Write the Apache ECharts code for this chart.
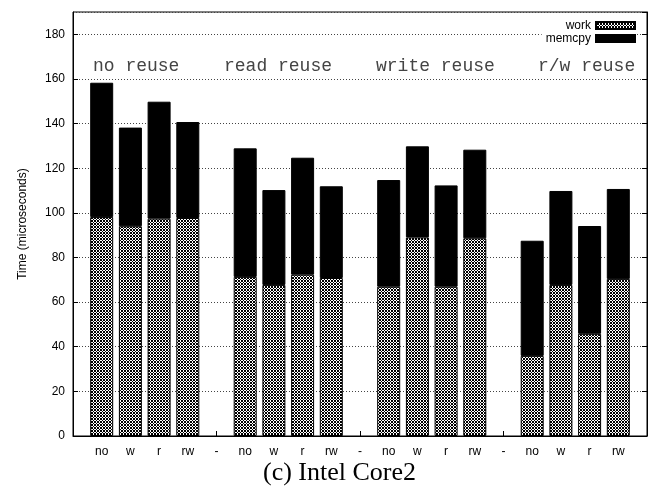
<!DOCTYPE html>
<html>
<head>
<meta charset="utf-8">
<script src="https://cdn.jsdelivr.net/npm/echarts@6/dist/echarts.min.js"></script>
<style>
html,body{margin:0;padding:0;background:#fff;}
#chart{width:653px;height:489px;}
</style>
</head>
<body>
<div id="chart"></div>
<script>
// ---- data ----
const categories = ['no','w','r','rw','-','no','w','r','rw','-','no','w','r','rw','-','no','w','r','rw'];
const groupLabels = ['no reuse','read reuse','write reuse','r/w reuse'];
const workValues = [98.1, 94.0, 97.4, 97.7, null, 71.3, 67.7, 72.3, 70.8, null, 66.9, 89.0, 66.9, 88.6, null, 35.9, 67.7, 45.8, 70.4];
const memcpyValues = [60.2, 44.2, 52.4, 43.0, null, 57.6, 42.5, 52.4, 41.1, null, 47.8, 40.8, 45.4, 39.7, null, 51.6, 42.1, 48.3, 40.3];
const yTicks = [0, 20, 40, 60, 80, 100, 120, 140, 160, 180];
const seriesNames = ['work', 'memcpy'];

// crosshatch pattern
function makePattern() {
  const n = 3;
  const c = document.createElement('canvas');
  c.width = n; c.height = n;
  const ctx = c.getContext('2d');
  ctx.fillStyle = '#fff';
  ctx.fillRect(0, 0, n, n);
  ctx.fillStyle = '#000';
  for (let x = 0; x < n; x++) {
    for (let y = 0; y < n; y++) {
      if ((x + y) % n === 0 || ((x - y) + n) % n === 0) ctx.fillRect(x, y, 1, 1);
    }
  }
  return c;
}
const pattern = { image: makePattern(), repeat: 'repeat' };

const axisData = [''].concat(categories, ['']);
const pad = arr => [null].concat(arr, [null]);

const chart = echarts.init(document.getElementById('chart'), null, { renderer: 'canvas' });
const font = 'Liberation Sans, Arial, sans-serif';
const mono = '18px "Liberation Mono", monospace';

chart.setOption({
  animation: false,
  backgroundColor: '#fff',
  grid: { left: 73, right: 6, top: 12, bottom: 53, show: true, borderColor: '#000', borderWidth: 1, backgroundColor: 'transparent' },
  legend: {
    data: seriesNames,
    orient: 'vertical',
    right: 17,
    top: 19,
    align: 'right',
    itemWidth: 39,
    itemHeight: 7,
    itemGap: 0,
    padding: [0, 0, 0, 4],
    backgroundColor: '#fff',
    textStyle: { fontFamily: font, fontSize: 12, color: '#000', lineHeight: 13 },
    icon: 'rect'
  },
  xAxis: {
    type: 'category',
    data: axisData,
    boundaryGap: false,
    axisLine: { show: true, lineStyle: { color: '#000', width: 1 } },
    axisTick: { show: true, inside: true, length: 5, interval: 0, lineStyle: { color: '#000' } },
    axisLabel: { interval: 0, fontFamily: font, fontSize: 12, color: '#000', margin: 10 },
    splitLine: { show: false }
  },
  yAxis: [{
    type: 'value',
    min: 0,
    max: 190,
    interval: 20,
    name: 'Time (microseconds)',
    nameLocation: 'middle',
    nameGap: 44,
    nameTextStyle: { fontFamily: font, fontSize: 12, color: '#000' },
    axisLine: { show: true, lineStyle: { color: '#000' } },
    axisTick: { show: true, inside: true, length: 5, lineStyle: { color: '#000' } },
    axisLabel: { fontFamily: font, fontSize: 12, color: '#000', margin: 8, showMaxLabel: false,
      formatter: v => (yTicks.indexOf(v) >= 0 ? String(v) : '') },
    splitLine: { show: true, lineStyle: { color: '#444', type: [1, 2], width: 1 } }
  }, {
    type: 'value',
    position: 'right',
    min: 0,
    max: 190,
    interval: 20,
    axisLine: { show: true, lineStyle: { color: '#000' } },
    axisTick: { show: true, inside: true, length: 5, lineStyle: { color: '#000' } },
    axisLabel: { show: false },
    splitLine: { show: false }
  }],
  series: [{
    name: seriesNames[0],
    type: 'bar',
    stack: 'total',
    barWidth: 23,
    data: pad(workValues),
    itemStyle: { color: pattern, borderColor: '#000', borderWidth: 1 }
  }, {
    name: seriesNames[1],
    type: 'bar',
    stack: 'total',
    barWidth: 23,
    data: pad(memcpyValues),
    itemStyle: { color: '#000', borderColor: '#000', borderWidth: 1 }
  }],
  graphic: [
    { type: 'text', left: 93, top: 57, z: 100, style: { text: groupLabels[0], font: mono, fill: '#444' } },
    { type: 'text', left: 224, top: 57, z: 100, style: { text: groupLabels[1], font: mono, fill: '#444' } },
    { type: 'text', left: 376, top: 57, z: 100, style: { text: groupLabels[2], font: mono, fill: '#444' } },
    { type: 'text', left: 538, top: 57, z: 100, style: { text: groupLabels[3], font: mono, fill: '#444' } },
    { type: 'text', left: 263, top: 460, z: 100, style: { text: '(c) Intel Core2', font: '26px "Liberation Serif", "Times New Roman", serif', fill: '#000' } }
  ]
});
</script>
</body>
</html>
